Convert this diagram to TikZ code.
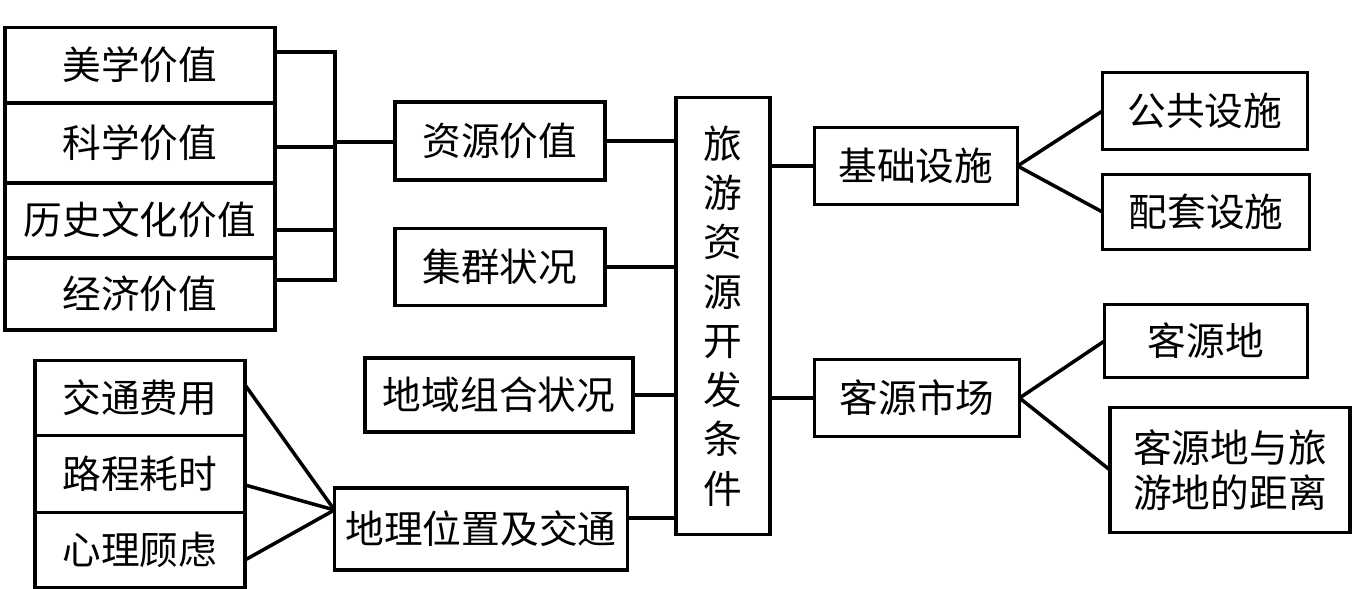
\documentclass[tikz,border=0pt]{standalone}
\usepackage{fontspec}
\newfontfamily\cjk{Noto Sans CJK SC}
\usetikzlibrary{positioning}
\tikzstyle{box} = [rectangle, draw=black, line width=1pt, inner sep=0pt, outer sep=0pt, text centered, font=\cjk\fontsize{11}{13}\selectfont]
\tikzstyle{line} = [line width=1pt]

\begin{document}
\begin{tikzpicture}[x=0.01cm, y=-0.01cm]
        \useasboundingbox (0,0) rectangle (1353,589);
        % left stack
        \node (meixue) [box, minimum width=2.7cm, minimum height=0.75cm] at (140,65) {美学价值};
        \node (kexue) [box, minimum width=2.7cm, minimum height=0.8cm] at (140,143) {科学价值};
        \node (lishi) [box, minimum width=2.7cm, minimum height=0.75cm] at (140,220) {历史文化价值};
        \node (jingji) [box, minimum width=2.7cm, minimum height=0.72cm] at (140,294) {经济价值};
        \node (ziyuan) [box, minimum width=2.1cm, minimum height=0.78cm] at (500,141) {资源价值};
        \node (jiqun) [box, minimum width=2.1cm, minimum height=0.77cm] at (500,267) {集群状况};
        \node (diyu) [box, minimum width=2.68cm, minimum height=0.74cm] at (499,395) {地域组合状况};
        \node (dili) [box, minimum width=2.93cm, minimum height=0.82cm] at (481,529) {地理位置及交通};
        % bottom left stack
        \node (feiyong) [box, minimum width=2.1cm, minimum height=0.75cm] at (140,398) {交通费用};
        \node (haoshi) [box, minimum width=2.1cm, minimum height=0.77cm] at (140,474) {路程耗时};
        \node (gulv) [box, minimum width=2.1cm, minimum height=0.75cm] at (140,550) {心理顾虑};
        % center
        \node (center) [box, minimum width=0.94cm, minimum height=4.37cm, text width=0.94cm, align=center] at (723,316)
            {旅\\[1pt]游\\[1pt]资\\[1pt]源\\[1pt]开\\[1pt]发\\[1pt]条\\[1pt]件};
        % right side
        \node (jichu) [box, minimum width=2.03cm, minimum height=0.77cm] at (916,166) {基础设施};
        \node (gonggong) [box, minimum width=2.05cm, minimum height=0.77cm] at (1205,111) {公共设施};
        \node (peitao) [box, minimum width=2.07cm, minimum height=0.75cm] at (1206,212) {配套设施};
        \node (shichang) [box, minimum width=2.05cm, minimum height=0.77cm] at (917,398) {客源市场};
        \node (keyuan) [box, minimum width=2.03cm, minimum height=0.73cm] at (1206,341) {客源地};
        \node (juli) [box, minimum width=2.4cm, minimum height=1.25cm, text width=2.4cm, align=center] at (1230,470) {客源地与旅\\游地的距离};

        \coordinate (brk) at (335,142);
        \draw [line] (meixue.east |- 0,52) -- (335,52) -- (335,280) -- (jingji.east |- 0,280);
        \draw [line] (kexue.east |- 0,147) -- (335,147);
        \draw [line] (lishi.east |- 0,230) -- (335,230);
        \draw [line] (brk) -- (ziyuan.west |- brk);
        \draw [line] (ziyuan.east) -- (center.west |- ziyuan.east);
        \draw [line] (jiqun.east) -- (center.west |- jiqun.east);
        \draw [line] (diyu.east) -- (center.west |- diyu.east);
        \draw [line] (dili.east |- 0,518) -- (center.west |- 0,518);
        \coordinate (meet) at (dili.west |- 0,510);
        \draw [line] (feiyong.east |- 0,385) -- (meet);
        \draw [line] (haoshi.east |- 0,485) -- (meet);
        \draw [line] (gulv.east |- 0,560) -- (meet);
        \draw [line] (center.east |- jichu.west) -- (jichu.west);
        \draw [line] (center.east |- shichang.west) -- (shichang.west);
        \draw [line] (jichu.east) -- (gonggong.west);
        \draw [line] (jichu.east) -- (peitao.west);
        \draw [line] (shichang.east) -- (keyuan.west);
        \draw [line] (shichang.east) -- (juli.west);
\end{tikzpicture}
\end{document}
